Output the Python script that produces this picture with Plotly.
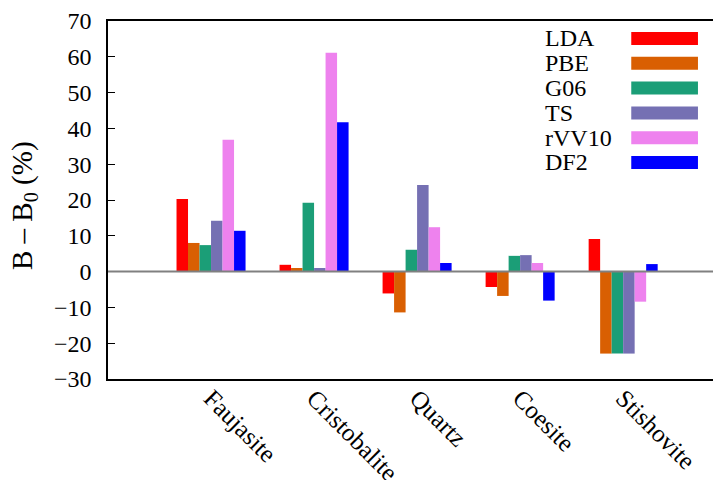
import plotly.graph_objects as go

categories = ["Faujasite", "Cristobalite", "Quartz", "Coesite", "Stishovite"]
series_names = ["LDA", "PBE", "G06", "TS", "rVV10", "DF2"]
lda = [20.3, 1.9, -6.1, -4.3, 9.1]
pbe = [8.0, 1.0, -11.4, -6.8, -22.9]
g06 = [7.4, 19.2, 6.1, 4.4, -22.9]
ts = [14.2, 1.0, 24.2, 4.6, -22.9]
rvv10 = [36.8, 61.1, 12.4, 2.4, -8.4]
df2 = [11.4, 41.7, 2.4, -8.1, 2.1]
series_values = [lda, pbe, g06, ts, rvv10, df2]
colors = ["#ff0000", "#d95f02", "#1b9e77", "#7570b3", "#ee82ee", "#0000ff"]
y_ticks = list(range(-30, 71, 10))

FONT = "Liberation Serif"

fig = go.Figure()
for name, vals, col in zip(series_names, series_values, colors):
    fig.add_trace(go.Bar(x=categories, y=vals, name=name,
                         marker=dict(color=col, line=dict(width=0)),
                         showlegend=False))

# zero line drawn above bars
fig.add_shape(type="line", xref="paper", yref="y", x0=0, x1=1, y0=0, y1=0,
              line=dict(color="#808080", width=2), layer="above")

# custom gnuplot-style key: text then swatch
row_h = 24.8 / 358.0
y0 = 1 - 17.5 / 358.0
for i, (name, col) in enumerate(zip(series_names, colors)):
    yc = y0 - i * row_h
    fig.add_annotation(x=0.711, y=yc, xref="paper", yref="paper", text=name,
                       showarrow=False, xanchor="left", yanchor="middle",
                       font=dict(family=FONT, size=24, color="black"))
    fig.add_shape(type="rect", xref="paper", yref="paper",
                  x0=0.855, x1=0.964, y0=yc - 6.5 / 358, y1=yc + 6.5 / 358,
                  fillcolor=col, line=dict(width=0))

fig.add_annotation(x=-0.1373, y=0.486, xref="paper", yref="paper",
                   text="B – B<sub>0</sub> (%)", textangle=-90, showarrow=False,
                   xanchor="center", yanchor="middle",
                   font=dict(family=FONT, size=29, color="black"))

# page has an 8px body margin, so the figure is 8px smaller and margins shifted
fig.update_layout(
    width=713, height=472,
    margin=dict(l=100, r=1, t=13, b=101, autoexpand=False),
    paper_bgcolor="white", plot_bgcolor="white",
    barmode="group", bargap=0.33, bargroupgap=0,
    font=dict(family=FONT, size=24, color="black"),
)
fig.update_xaxes(range=[-1, 4.94], showline=True, mirror=True, linecolor="black",
                 linewidth=1.5, ticks="", tickangle=45, showgrid=False,
                 automargin=False, ticklabelstandoff=-7,
                 tickfont=dict(family=FONT, size=25))
fig.update_yaxes(range=[-30, 70], tickvals=y_ticks, showline=True, mirror="ticks",
                 linecolor="black", linewidth=1.5, ticks="inside", ticklen=7,
                 tickcolor="black", showgrid=False, zeroline=False, automargin=False,
                 ticklabelstandoff=10, tickfont=dict(family=FONT, size=24))

fig.write_html("out.html")
